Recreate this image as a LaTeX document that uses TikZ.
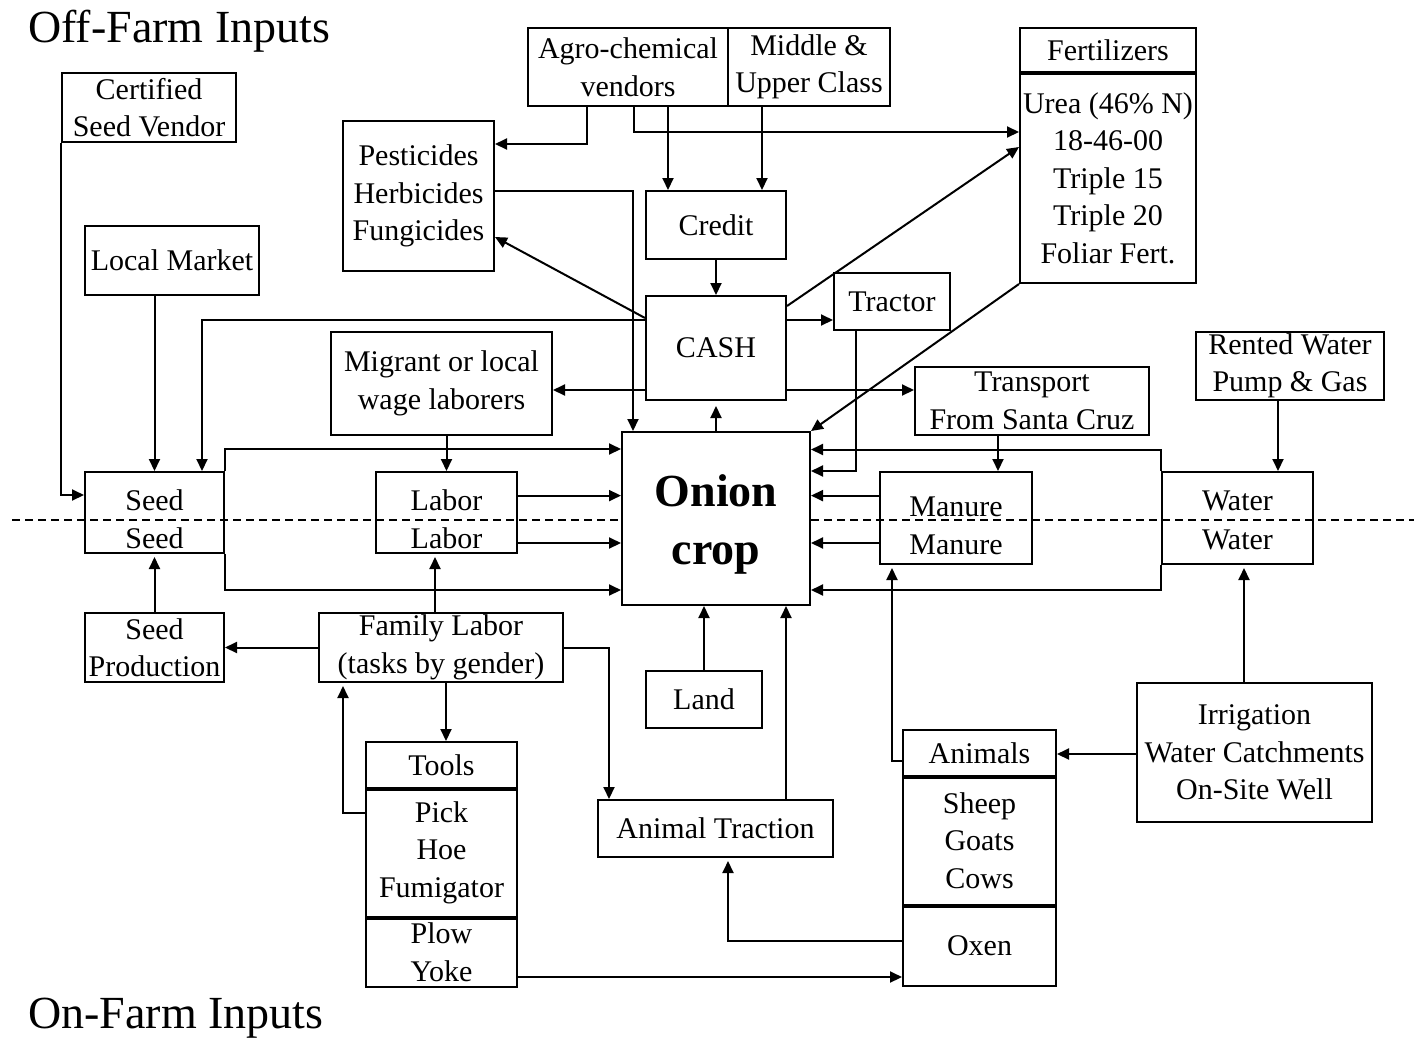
\documentclass[tikz,border=0pt]{standalone}
\usepackage{fontspec}
\setmainfont{Liberation Serif}
\usetikzlibrary{arrows.meta,calc}
\newcommand{\myfs}{\fontsize{30}{37.5}\selectfont}
\begin{document}
\begin{tikzpicture}[x=1pt,y=-1pt,
  box/.style={draw, line width=2pt, inner sep=0pt, align=center, font=\myfs},
  txt/.style={inner sep=0pt, align=center, font=\myfs},
  arr/.style={line width=2pt, -{Triangle[length=12pt,width=11pt]}},
  thick divider/.style={line width=4.5pt},
  title/.style={inner sep=0pt, anchor=base west, font=\fontsize{46}{50}\selectfont}]
\fill[white] (0,0) rectangle (1414,1037);
\useasboundingbox (0,0) rectangle (1414,1037);

% titles
\node[title] (offfarm) at (28,42) {Off-Farm Inputs};
\node[title] (onfarm) at (28,1028) {On-Farm Inputs};

% boxes
\node[box, minimum width=174, minimum height=69] (cert) at (149,107.5) {Certified\\Seed Vendor};
\node[box, minimum width=200, minimum height=78] (agro) at (628,67) {Agro-chemical\\vendors};
\node[box, minimum width=162, minimum height=78] (middle) at (809,67) {Middle \&\\Upper Class};
\node[box, minimum width=176, minimum height=44] (ferth) at (1108,50) {Fertilizers};
\node[box, minimum width=176, minimum height=210] (fertb) at (1108,178) {Urea (46\% N)\\18-46-00\\Triple 15\\Triple 20\\Foliar Fert.};
\node[box, minimum width=151, minimum height=150] (pest) at (418.5,196) {Pesticides\\Herbicides\\Fungicides};
\node[box, minimum width=140, minimum height=68] (credit) at (716,225) {Credit};
\node[box, minimum width=174, minimum height=69] (local) at (172,260.5) {Local Market};
\node[box, minimum width=140, minimum height=104] (cash) at (716,348) {CASH};
\node[box, minimum width=116, minimum height=57] (tractor) at (892,301.5) {Tractor};
\node[box, minimum width=221, minimum height=103] (migrant) at (441.5,383.5) {Migrant or local\\wage laborers};
\node[box, minimum width=188, minimum height=68] (rented) at (1290,366) {Rented Water\\Pump \& Gas};
\node[box, minimum width=234, minimum height=68] (transport) at (1032,401) {Transport\\From Santa Cruz};
\node[box, minimum width=188, minimum height=173] (onion) at (716,518.5) {};
\node[txt, font=\fontsize{46}{58}\selectfont\bfseries] (onionlbl) at (716,524) {Onion\\crop};

\node[box, minimum width=139, minimum height=81] (seed) at (154.5,512.5) {};
\node[txt] (seedup) at (154.5,500) {Seed};
\node[txt] (seedlo) at (154.5,538) {Seed};
\node[box, minimum width=141, minimum height=81] (labor) at (446.5,512.5) {};
\node[txt] (laborup) at (446.5,500) {Labor};
\node[txt] (laborlo) at (446.5,538) {Labor};
\node[box, minimum width=152, minimum height=92] (manure) at (956,518) {};
\node[txt] (manureup) at (956,507) {Manure};
\node[txt] (manurelo) at (956,545) {Manure};
\node[box, minimum width=151, minimum height=92] (water) at (1237.5,518) {};
\node[txt] (waterup) at (1237.5,501) {Water};
\node[txt] (waterlo) at (1237.5,540) {Water};

\node[box, minimum width=139, minimum height=69] (seedprod) at (154.5,647.5) {Seed\\Production};
\node[box, minimum width=244, minimum height=69] (family) at (441,647.5) {Family Labor\\(tasks by gender)};
\node[box, minimum width=116, minimum height=57] (land) at (704,699.5) {Land};
\node[box, minimum width=235, minimum height=139] (irrig) at (1254.5,752.5) {Irrigation\\Water Catchments\\On-Site Well};
\node[box, minimum width=153, minimum height=46] (animals) at (979.5,753) {Animals};
\node[box, minimum width=153, minimum height=129] (sheep) at (979.5,840.5) {Sheep\\Goats\\Cows};
\node[box, minimum width=153, minimum height=81] (oxen) at (979.5,945.5) {Oxen};
\node[box, minimum width=151, minimum height=46] (tools) at (441.5,765) {Tools};
\node[box, minimum width=151, minimum height=129] (pick) at (441.5,852.5) {Pick\\Hoe\\Fumigator};
\node[box, minimum width=151, minimum height=70] (plow) at (441.5,952) {Plow\\Yoke};
\node[box, minimum width=235, minimum height=57] (traction) at (715.5,828.5) {Animal Traction};

% thick dividers
\draw[thick divider] (ferth.south west) -- (ferth.south east);
\draw[thick divider] (tools.south west) -- (tools.south east);
\draw[thick divider] (pick.south west) -- (pick.south east);
\draw[thick divider] (animals.south west) -- (animals.south east);
\draw[thick divider] (sheep.south west) -- (sheep.south east);

% dashed divider line
\coordinate (dl) at (12,520);
\coordinate (dr) at (1414,520);
\draw[line width=1.5pt, dash pattern=on 8pt off 5pt] (dl) -- (onion.west |- dl);
\draw[line width=1.5pt, dash pattern=on 8pt off 5pt] (onion.east |- dr) -- (dr);

% connectors
\draw[arr] (cert.south west) |- (seed.west |- 0,495);
\draw[arr] (local.south -| seed.north) -- (seed.north);
\draw[arr] (cash.west |- 0,320) -| (seed.north -| 202,0);
\draw[arr] (seed.north east) |- (onion.west |- 0,449);
\draw[arr] (seed.south east) |- (onion.west |- 0,590);
\draw[arr] (labor.east |- 0,495.6) -- (onion.west |- 0,495.6);
\draw[arr] (labor.east |- 0,543) -- (onion.west |- 0,543);
\draw[arr] (migrant.south -| labor.north) -- (labor.north);
\draw[arr] (cash.west |- 0,390) -- (migrant.east |- 0,390);
\draw[arr] (cash.west |- 0,318) -- (pest.east |- 0,237);
\draw[arr] (pest.east |- 0,191) -| (onion.north -| 633,0);
\draw[arr] (agro.south -| 587,0) |- (pest.east |- 0,144);
\draw[arr] (agro.south -| 634,0) |- (fertb.west |- 0,132);
\draw[arr] (agro.south -| 668,0) -- (credit.north -| 668,0);
\draw[arr] (middle.south -| 762,0) -- (credit.north -| 762,0);
\draw[arr] (credit.south) -- (cash.north);
\draw[arr] (cash.east |- 0,320) -- (tractor.west |- 0,320);
\draw[arr] (cash.east |- 0,306) -- (fertb.west |- 0,147);
\draw[arr] (cash.east |- 0,390) -- (transport.west |- 0,390);
\draw[arr] (fertb.south west) -- (onion.north east);
\draw[arr] (tractor.south -| 856,0) |- (onion.east |- 0,471);
\draw[arr, shorten >=5pt] (onion.north) -- (cash.south);
\draw[arr] (transport.south -| 998,0) -- (manure.north -| 998,0);
\draw[arr] (manure.west |- 0,495.6) -- (onion.east |- 0,495.6);
\draw[arr] (manure.west |- 0,543) -- (onion.east |- 0,543);
\draw[arr] (water.north west) |- (onion.east |- 0,449.5);
\draw[arr] (water.south west) |- (onion.east |- 0,590);
\draw[arr] (rented.south -| 1278,0) -- (water.north -| 1278,0);
\draw[arr, shorten >=3pt] (seedprod.north) -- (seed.south);
\draw[arr] (family.west) -- (seedprod.east);
\draw[arr, shorten >=3pt] (family.north -| 435,0) -- (labor.south -| 435,0);
\draw[arr] (family.south -| 446,0) -- (tools.north -| 446,0);
\draw[arr, shorten >=3pt] (pick.west |- 0,812.5) -| (family.south -| 343,0);
\draw[arr] (family.east) -| (traction.north -| 609,0);
\draw[arr] (traction.north -| 786,0) -- (onion.south -| 786,0);
\draw[arr] (land.north) -- (onion.south -| land.north);
\draw[arr, shorten >=3pt] (animals.west |- 0,761) -| (manure.south -| 892,0);
\draw[arr, shorten >=3pt] (oxen.west |- 0,941) -| (traction.south -| 728,0);
\draw[arr] (plow.east |- 0,977) -- (oxen.west |- 0,977);
\draw[arr] (irrig.west |- 0,754) -- (animals.east |- 0,754);
\draw[arr, shorten >=3pt] (irrig.north -| 1244,0) -- (water.south -| 1244,0);
\end{tikzpicture}
\end{document}
